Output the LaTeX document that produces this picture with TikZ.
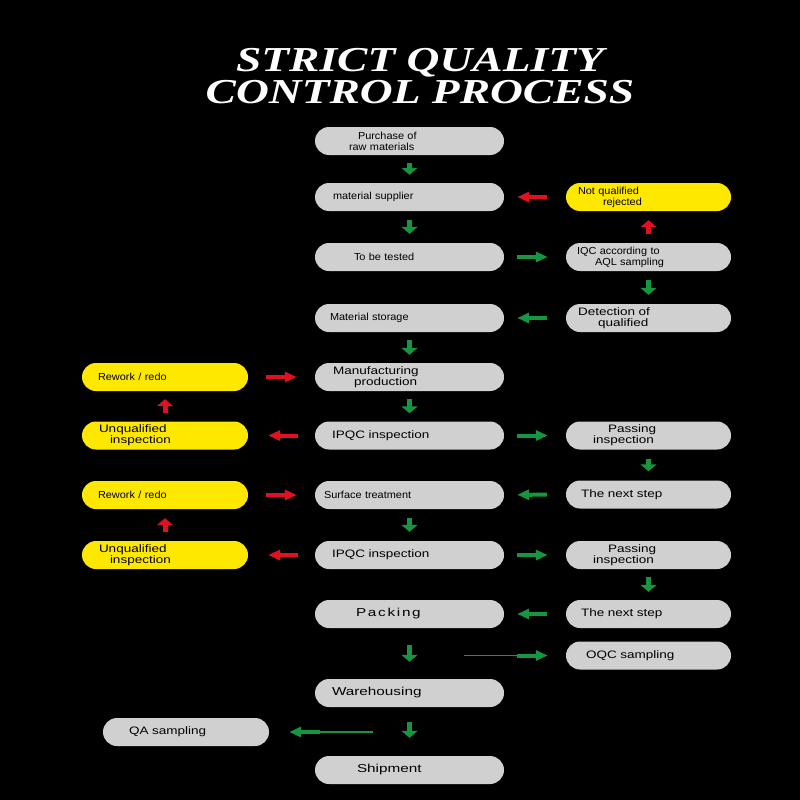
\documentclass[tikz,border=0pt]{standalone}
\usepackage{fontspec}
\usepackage{graphicx}
\usepackage{tikz}
\usetikzlibrary{arrows.meta,positioning}
\newfontfamily\titlefont{Liberation Serif}
\newfontfamily\boxfont[FakeStretch=1.07]{Liberation Sans}
\newfontfamily\spacedfont[FakeStretch=1.25]{Liberation Sans}
\newfontfamily\bigfont[FakeStretch=1.33]{Liberation Sans}
\newcommand\ind[1]{\hspace*{#1pt}}
\definecolor{qcgreen}{RGB}{22,150,64}
\definecolor{qcred}{RGB}{226,16,32}
\definecolor{qcgray}{RGB}{208,208,208}
\definecolor{qcyellow}{RGB}{255,232,0}

\begin{document}
\begin{tikzpicture}[x=1pt,y=-1pt,
  pill/.style={fill=qcgray,rounded corners=14pt,minimum height=28pt,inner sep=0pt,
    align=left,text width=#1,font=\boxfont\fontsize{10.2}{11}\selectfont},
  pill/.default=189pt,
  warn/.style={fill=qcyellow},
  spaced/.style={font=\spacedfont\fontsize{10.8}{11}\selectfont},
  bigtext/.style={font=\bigfont\fontsize{11.5}{12}\selectfont},
  vg/.style={draw=qcgreen,line width=5pt,-{Triangle[length=7pt,width=16pt]},shorten <=#1,shorten >=#1},
  vg/.default=8pt,
  vr/.style={vg=#1,draw=qcred},
  vr/.default=8pt,
  hg/.style 2 args={draw=qcgreen,line width=4pt,-{Triangle[length=12pt,width=10pt]},shorten <=#1,shorten >=#2},
  hr/.style 2 args={hg={#1}{#2},draw=qcred},
  thinline/.style={draw=qcgreen,line width=1.5pt}]
\fill[black] (0,0) rectangle (800,800);
\node[anchor=north,inner sep=0pt,text=white,align=center,
  font=\titlefont\bfseries\itshape\fontsize{35}{32}\selectfont] (title) at (420,48)
  {\scalebox{1.3}[1]{STRICT QUALITY}\\\scalebox{1.3}[1]{CONTROL PROCESS}};

\node[pill] (buy) at (409.5,141) {\ind{43}Purchase of\\\ind{34}raw materials};
\node[pill] (supp) at (409.5,197) {\ind{18}material supplier};
\node[pill] (test) at (409.5,257) {\ind{39}To be tested};
\node[pill] (store) at (409.5,318) {\ind{15}Material storage};
\node[pill,spaced] (make) at (409.5,377) {\ind{18}Manufacturing\\\ind{39}production};
\node[pill,spaced] (ipqc) at (409.5,435.5) {\ind{17}IPQC inspection};
\node[pill] (surf) at (409.5,495) {\ind{9}Surface treatment};
\node[pill,spaced] (ipqcb) at (409.5,555) {\ind{17}IPQC inspection};
\node[pill,bigtext] (pack) at (409.5,614) {\ind{41}\addfontfeature{LetterSpace=15}Packing};
\node[pill,bigtext] (ware) at (409.5,693) {\ind{17}Warehousing};
\node[pill,bigtext] (ship) at (409.5,770) {\ind{42}Shipment};

\node[pill=165pt,warn] (nq) at (648.5,197) {\ind{12}Not qualified\\\ind{37}rejected};
\node[pill=165pt] (iqc) at (648.5,257) {\ind{11}IQC according to\\\ind{29}AQL sampling};
\node[pill=165pt,spaced] (det) at (648.5,318) {\ind{12}Detection of\\\ind{32}qualified};
\node[pill=165pt,spaced] (pass) at (648.5,435.5) {\ind{42}Passing\\\ind{27}inspection};
\node[pill=165pt,spaced] (next) at (648.5,494.5) {\ind{15}The next step};
\node[pill=165pt,spaced] (passb) at (648.5,555) {\ind{42}Passing\\\ind{27}inspection};
\node[pill=165pt,spaced] (nextb) at (648.5,614) {\ind{15}The next step};
\node[pill=165pt,spaced] (oqc) at (648.5,655.5) {\ind{20}OQC sampling};

\node[pill=166pt,warn] (rw) at (165,377) {\ind{16}Rework / redo};
\node[pill=166pt,warn,spaced] (uq) at (165,435.5) {\ind{17}Unqualified\\\ind{28}inspection};
\node[pill=166pt,warn] (rwb) at (165,495) {\ind{16}Rework / redo};
\node[pill=166pt,warn,spaced] (uqb) at (165,555) {\ind{17}Unqualified\\\ind{28}inspection};
\node[pill=166pt,spaced] (qa) at (186,732) {\ind{26}QA sampling};

\coordinate (oqcin) at (464,655.5);
\coordinate (qain) at (373,732);

\draw[vg] (buy) -- (supp);
\draw[vg=9pt] (supp) -- (test);
\draw[hr={19pt}{13pt}] (nq) -- (supp);
\draw[hg={13pt}{18pt}] (test) -- (iqc);
\draw[vr=9pt] (iqc) -- (nq);
\draw[vg=9pt] (iqc) -- (det);
\draw[hg={19pt}{13pt}] (det) -- (store);
\draw[vg] (store) -- (make);
\draw[hr={18pt}{18pt}] (rw) -- (make);
\draw[vg] (make) -- (ipqc);
\draw[hr={17pt}{20pt}] (ipqc) -- (uq);
\draw[vr] (uq) -- (rw);
\draw[hg={13pt}{18pt}] (ipqc) -- (pass);
\draw[vg=9pt] (pass) -- (next);
\draw[hg={19pt}{13pt}] (next) -- (surf);
\draw[hr={18pt}{18pt}] (rwb) -- (surf);
\draw[vg=9pt] (surf) -- (ipqcb);
\draw[hr={17pt}{20pt}] (ipqcb) -- (uqb);
\draw[vr=9pt] (uqb) -- (rwb);
\draw[hg={13pt}{18pt}] (ipqcb) -- (passb);
\draw[vg] (passb) -- (nextb);
\draw[hg={19pt}{13pt}] (nextb) -- (pack);
\draw[vg=17pt] (pack) -- (ware);
\draw[thinline,shorten >=40pt] (oqcin) -- (oqc);
\draw[hg={53pt}{18pt}] (oqcin) -- (oqc);
\draw[vg,shorten <=15pt,shorten >=18pt] (ware) -- (ship);
\draw[thinline,shorten >=40pt] (qain) -- (qa);
\draw[hg={53pt}{20pt}] (qain) -- (qa);
\end{tikzpicture}
\end{document}
